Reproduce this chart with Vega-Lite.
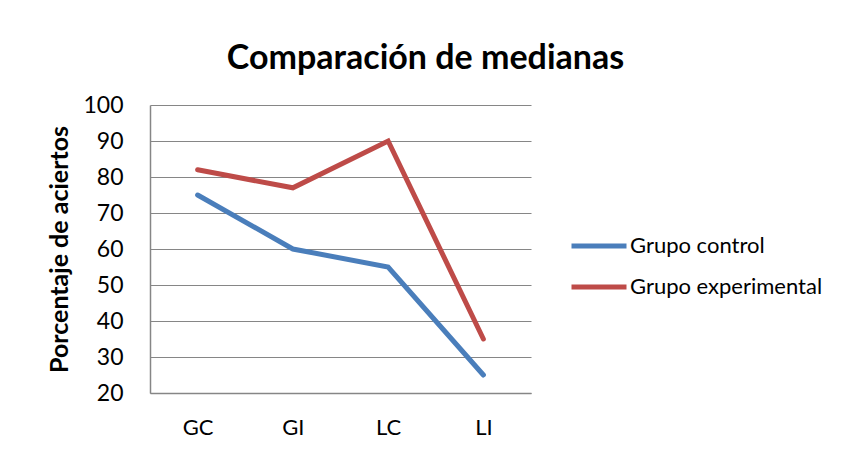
{
  "$schema": "https://vega.github.io/schema/vega-lite/v6.json",
  "width": 381,
  "height": 288,
  "autosize": {"type": "none"},
  "padding": {"left": 150, "top": 105, "right": 313, "bottom": 63},
  "background": "white",
  "title": {
    "text": "Comparación de medianas",
    "font": "Lato",
    "fontSize": 34,
    "fontWeight": "bold",
    "color": "black",
    "anchor": "middle",
    "dx": 85,
    "offset": 18
  },
  "data": {
    "values": [
      {"categoria": "GC", "grupo": "Grupo control", "valor": 75},
      {"categoria": "GI", "grupo": "Grupo control", "valor": 60},
      {"categoria": "LC", "grupo": "Grupo control", "valor": 55},
      {"categoria": "LI", "grupo": "Grupo control", "valor": 25},
      {"categoria": "GC", "grupo": "Grupo experimental", "valor": 82},
      {"categoria": "GI", "grupo": "Grupo experimental", "valor": 77},
      {"categoria": "LC", "grupo": "Grupo experimental", "valor": 90},
      {"categoria": "LI", "grupo": "Grupo experimental", "valor": 35}
    ]
  },
  "mark": {"type": "line", "strokeWidth": 5, "strokeCap": "round", "strokeJoin": "miter"},
  "encoding": {
    "x": {
      "field": "categoria",
      "type": "ordinal",
      "scale": {"type": "point", "padding": 0.5},
      "axis": {
        "title": null,
        "labelAngle": 0,
        "labelFont": "Lato",
        "labelFontSize": 22,
        "labelColor": "black",
        "labelPadding": 24,
        "ticks": false,
        "domainColor": "#868686",
        "domainWidth": 1.5,
        "grid": false
      }
    },
    "y": {
      "field": "valor",
      "type": "quantitative",
      "scale": {"domain": [20, 100], "nice": false, "zero": false},
      "axis": {
        "title": "Porcentaje de aciertos",
        "titleFont": "Lato",
        "titleFontSize": 25,
        "titleFontWeight": "bold",
        "titleColor": "black",
        "titlePadding": 10,
        "values": [20, 30, 40, 50, 60, 70, 80, 90, 100],
        "labelFont": "Lato",
        "labelFontSize": 23,
        "labelColor": "black",
        "labelPadding": 27,
        "ticks": false,
        "domainColor": "#868686",
        "domainWidth": 1.5,
        "grid": true,
        "gridColor": "#868686",
        "gridWidth": 1.2
      }
    },
    "color": {
      "field": "grupo",
      "type": "nominal",
      "scale": {"domain": ["Grupo control", "Grupo experimental"], "range": ["#4A7EBB", "#BE4B48"]},
      "legend": {
        "title": null,
        "orient": "none",
        "legendX": 419,
        "legendY": 111,
        "symbolType": "stroke",
        "symbolSize": 3025,
        "symbolStrokeWidth": 5,
        "labelFont": "Lato",
        "labelFontSize": 22,
        "labelColor": "black",
        "labelOffset": 1,
        "labelLimit": 400,
        "rowPadding": -6
      }
    }
  },
  "config": {"view": {"stroke": null}}
}
